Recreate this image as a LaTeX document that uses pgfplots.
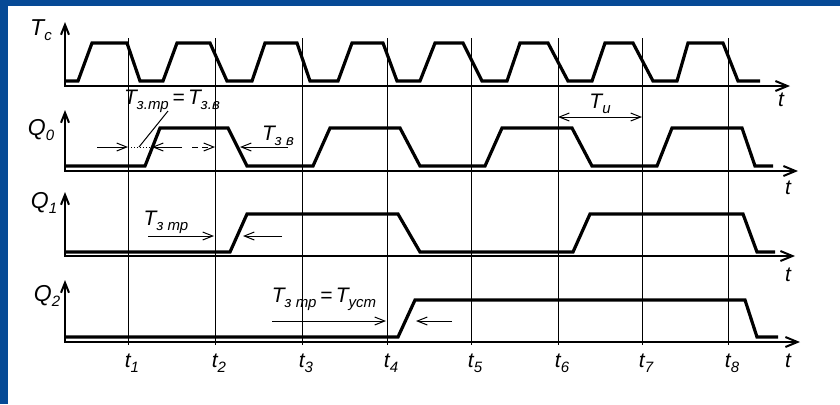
\documentclass[border=0pt]{standalone}
\usepackage{pgfplots}
\pgfplotsset{compat=1.18}
\usepackage{fontspec}
\setmainfont{Liberation Sans}
\usetikzlibrary{arrows.meta}
\definecolor{bgblue}{RGB}{6,74,150}
\newcommand\sub[1]{\raisebox{-0.45ex}{\fontsize{7.5}{8}\selectfont #1}}
\newcommand\lbl{\fontsize{10.5}{12}\selectfont\itshape}
\begin{document}
\begin{tikzpicture}
\fill[bgblue] (0,0) rectangle (420pt,202pt);
\fill[white] (4pt,0) rectangle (420pt,199pt);
\begin{axis}[at={(0,0)},anchor=south west, scale only axis, width=420pt, height=202pt,
  xmin=0,xmax=840,ymin=0,ymax=404, y dir=reverse, hide axis, clip=false]
% vertical time lines
\pgfplotsinvokeforeach{128,215,302,387,471,558,642,728}{
  \draw[line width=0.5pt] (axis cs:#1,38) -- (axis cs:#1,345);
}
% axes
\draw[line width=1pt,{Straight Barb[length=5pt,width=4pt]}-{Straight Barb[length=6pt,width=5pt]}] (axis cs:65,22) -- (axis cs:65,86) -- (axis cs:790,86);
\draw[line width=1pt,{Straight Barb[length=5pt,width=4pt]}-{Straight Barb[length=6pt,width=5pt]}] (axis cs:65,110) -- (axis cs:65,171) -- (axis cs:798,171);
\draw[line width=1pt,{Straight Barb[length=5pt,width=4pt]}-{Straight Barb[length=6pt,width=5pt]}] (axis cs:65,192) -- (axis cs:65,256) -- (axis cs:795,256);
\draw[line width=1pt,{Straight Barb[length=5pt,width=4pt]}-{Straight Barb[length=6pt,width=5pt]}] (axis cs:65,280) -- (axis cs:65,342) -- (axis cs:800,342);
% Tc
\addplot[line width=1.6pt] coordinates {(65,81)(78,81)(92,43)(127,43)(140,81)(163,81)(177,43)(210,43)(227,81)(252,81)(265,43)(297,43)(310,81)(338,81)(352,43)(383,43)(397,81)(420,81)(435,43)(463,43)(482,81)(507,81)(520,43)(548,43)(568,81)(592,81)(605,43)(633,43)(653,81)(677,81)(688,43)(723,43)(738,81)(760,81)};
% Q0
\addplot[line width=1.6pt] coordinates {(65,166)(145,166)(160,128)(228,128)(247,166)(313,166)(330,128)(400,128)(420,166)(485,166)(502,128)(572,128)(592,166)(657,166)(672,128)(742,128)(755,166)(773,166)};
% Q1
\addplot[line width=1.6pt] coordinates {(65,252)(230,252)(247,214)(398,214)(420,252)(573,252)(590,214)(743,214)(757,252)(775,252)};
% Q2
\addplot[line width=1.6pt] coordinates {(65,337)(398,337)(415,300)(745,300)(757,337)(778,337)};
% signal labels
\node[font=\fontsize{11.5}{13}\selectfont\itshape] at (axis cs:41,30) {T\sub{c}};
\node[font=\fontsize{11.5}{13}\selectfont\itshape] at (axis cs:41,130) {Q\sub{0}};
\node[font=\fontsize{11.5}{13}\selectfont\itshape] at (axis cs:44,203) {Q\sub{1}};
\node[font=\fontsize{11.5}{13}\selectfont\itshape] at (axis cs:47,296) {Q\sub{2}};
% t labels
\node[font=\lbl] at (axis cs:781,100) {t};
\node[font=\lbl] at (axis cs:788,188) {t};
\node[font=\lbl] at (axis cs:788,275) {t};
\node[font=\lbl] at (axis cs:788,361) {t};
% time ticks
\node[font=\lbl] at (axis cs:132,363) {t\sub{1}};
\node[font=\lbl] at (axis cs:219,363) {t\sub{2}};
\node[font=\lbl] at (axis cs:306,363) {t\sub{3}};
\node[font=\lbl] at (axis cs:391,363) {t\sub{4}};
\node[font=\lbl] at (axis cs:475,363) {t\sub{5}};
\node[font=\lbl] at (axis cs:562,363) {t\sub{6}};
\node[font=\lbl] at (axis cs:646,363) {t\sub{7}};
\node[font=\lbl] at (axis cs:732,363) {t\sub{8}};
% annotations Q0
\node[font=\lbl] at (axis cs:172,101) {T\sub{з.тр}\,=\,T\sub{з.в}};
\draw[line width=0.5pt] (axis cs:139,147) -- (axis cs:168,111);
\draw[line width=0.5pt,-{Straight Barb[length=5pt,width=4pt]}] (axis cs:97,147) -- (axis cs:128,147);
\draw[line width=0.5pt,densely dotted] (axis cs:128,147) -- (axis cs:152,147);
\draw[line width=0.5pt,-{Straight Barb[length=5pt,width=4pt]}] (axis cs:182,147) -- (axis cs:152,147);
\draw[line width=0.5pt,densely dashed,-{Straight Barb[length=5pt,width=4pt]}] (axis cs:192,147) -- (axis cs:215,147);
\draw[line width=0.5pt,-{Straight Barb[length=5pt,width=4pt]}] (axis cs:288,147) -- (axis cs:240,147);
\node[font=\lbl] at (axis cs:278,136) {T\sub{з в}};
\draw[line width=0.5pt,{Straight Barb[length=5pt,width=4pt]}-{Straight Barb[length=5pt,width=4pt]}] (axis cs:558,117) -- (axis cs:642,117);
\node[font=\lbl] at (axis cs:600,104) {T\sub{и}};
% annotations Q1
\node[font=\lbl] at (axis cs:166,222) {T\sub{з тр}};
\draw[line width=0.5pt,-{Straight Barb[length=5pt,width=4pt]}] (axis cs:148,236) -- (axis cs:214,236);
\draw[line width=0.5pt,-{Straight Barb[length=5pt,width=4pt]}] (axis cs:282,236) -- (axis cs:243,236);
% annotations Q2
\node[font=\lbl] at (axis cs:324,299) {T\sub{з тр}\,=\,T\sub{уст}};
\draw[line width=0.5pt,-{Straight Barb[length=5pt,width=4pt]}] (axis cs:272,321) -- (axis cs:386,321);
\draw[line width=0.5pt,-{Straight Barb[length=5pt,width=4pt]}] (axis cs:452,321) -- (axis cs:416,321);
\end{axis}
\pgfresetboundingbox
\path[use as bounding box] (0,0) rectangle (420pt,202pt);
\end{tikzpicture}
\end{document}
